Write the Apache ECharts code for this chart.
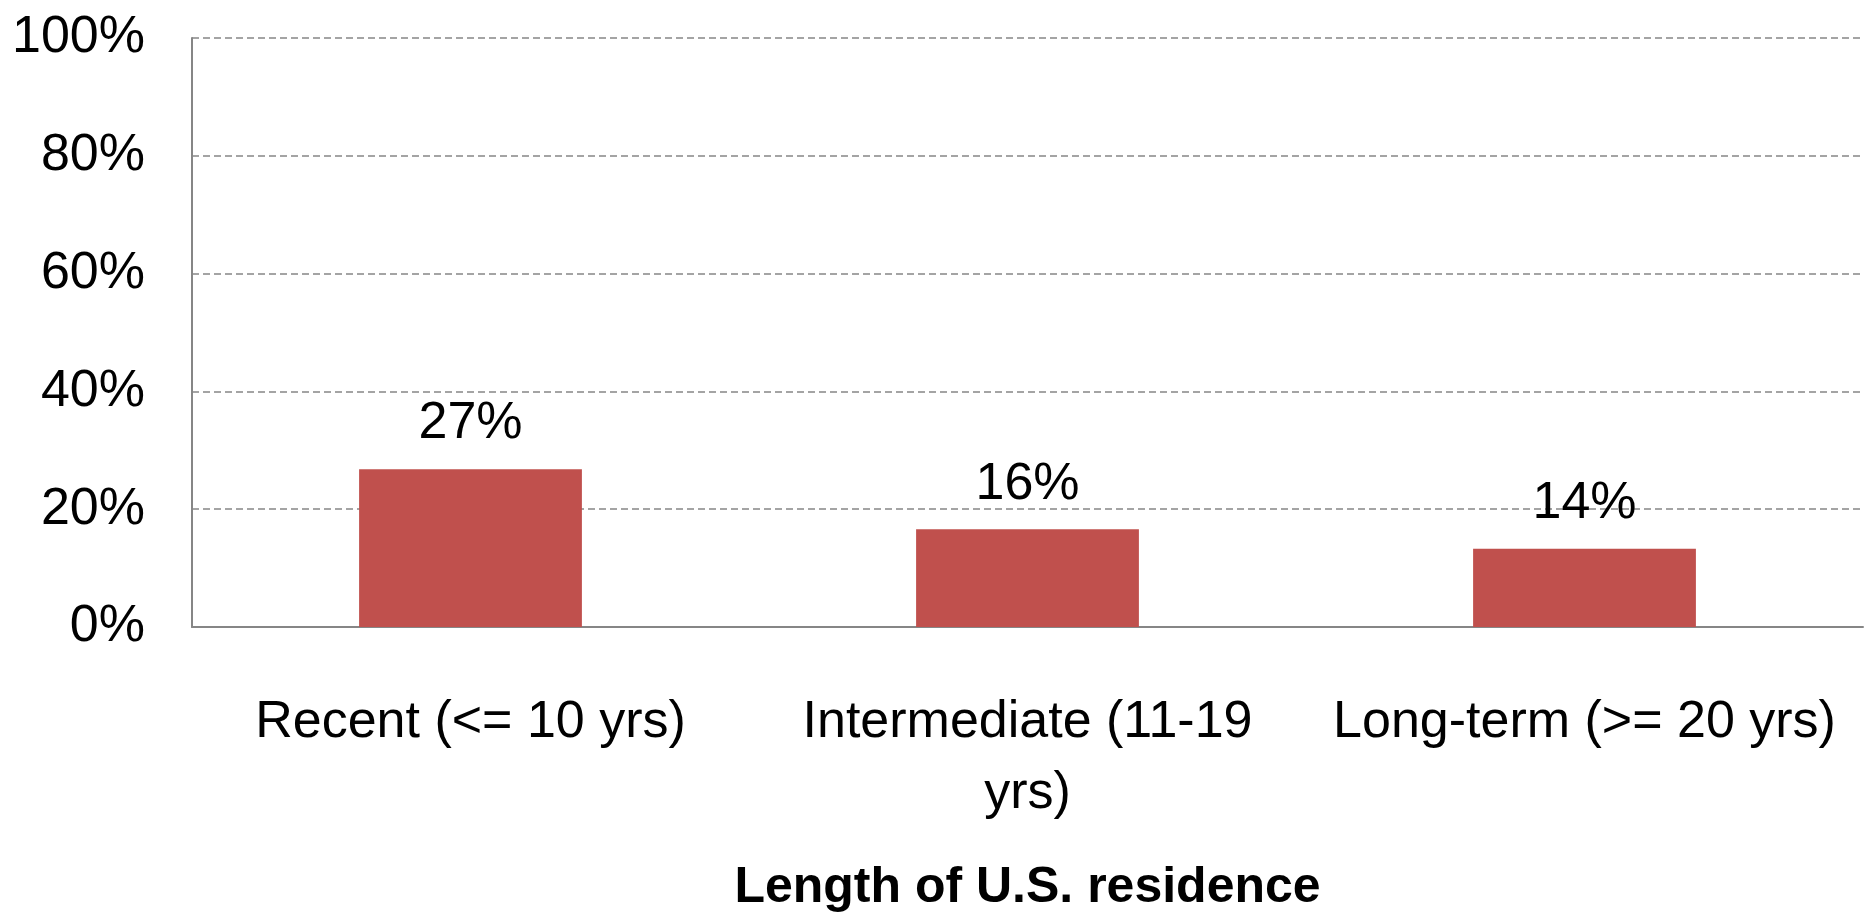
<!DOCTYPE html>
<html>
<head>
<meta charset="utf-8">
<script src="https://cdn.jsdelivr.net/npm/echarts@6/dist/echarts.min.js"></script>
<style>
  * { margin: 0; padding: 0; }
  html, body { width: 1870px; height: 915px; background: #fff; }
</style>
</head>
<body>
<div id="chartId" style="width:1870px;height:915px;"></div>
<script>
// categories and values
const categories = ["Recent (<= 10 yrs)", "Intermediate (11-19\nyrs)", "Long-term (>= 20 yrs)"];
const shares = [26.8, 16.6, 13.3];
const shareLabels = ["27%", "16%", "14%"];
const yTicks = [0, 20, 40, 60, 80, 100];

const chart = echarts.init(document.getElementById("chartId"));
const font = "'Liberation Sans', Arial, sans-serif";

let option = {
  animation: false,
  grid: { left: 192, right: 7, top: 38, bottom: 288, outerBoundsMode: "none", containLabel: false },
  xAxis: {
    type: "category",
    data: categories,
    name: "Length of U.S. residence",
    nameLocation: "middle",
    nameGap: 236,
    nameTextStyle: { fontFamily: font, fontSize: 50, fontWeight: "bold", color: "#000" },
    axisLine: { lineStyle: { color: "#868686", width: 2 } },
    axisTick: { show: false },
    axisLabel: {
      fontFamily: font, fontSize: 52, color: "#000",
      lineHeight: 71, margin: 60, interval: 0
    }
  },
  yAxis: {
    type: "value",
    min: 0, max: 100, interval: 20,
    axisLine: { show: true, lineStyle: { color: "#868686", width: 2 } },
    axisTick: { show: false },
    splitLine: { lineStyle: { color: "#868686", width: 1.5, type: [7, 4] } },
    axisLabel: {
      fontFamily: font, fontSize: 52, color: "#000", margin: 47,
      formatter: (v) => (yTicks.indexOf(v) >= 0 ? v + "%" : "")
    }
  },
  series: [
    {
      type: "bar",
      data: shares,
      barWidth: "40%",
      itemStyle: { color: "#C0504D" },
      label: {
        show: true,
        position: "top",
        distance: 19,
        fontFamily: font, fontSize: 52, color: "#000",
        formatter: (p) => shareLabels[p.dataIndex]
      }
    }
  ]
};
chart.setOption(option);
</script>
</body>
</html>
